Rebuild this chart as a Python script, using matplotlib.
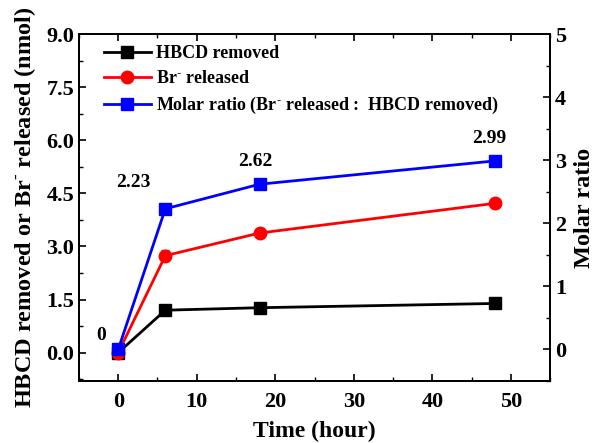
import numpy as np
import matplotlib
matplotlib.use('Agg')
import matplotlib.pyplot as plt
from matplotlib.ticker import MultipleLocator

plt.rcParams['font.family'] = 'Liberation Serif'
plt.rcParams['font.weight'] = 'bold'
plt.rcParams['mathtext.fontset'] = 'custom'
plt.rcParams['mathtext.rm'] = 'Liberation Serif:bold'
plt.rcParams['mathtext.bf'] = 'Liberation Serif:bold'

# datos
tiempo = [0, 6, 18, 48]
hbcd = [0.0, 1.20, 1.27, 1.39]
hbcd_err = [0.03, 0.06, 0.06, 0.06]
br = [0.0, 2.74, 3.38, 4.22]
br_err = [0.03, 0.16, 0.08, 0.12]
ratio = [0.0, 2.23, 2.62, 2.99]
ratio_txt = ['0', '2.23', '2.62', '2.99']

fig = plt.figure(figsize=(5.98, 4.43), dpi=100)
ax = fig.add_axes([0.132, 0.140, 0.788, 0.783])
ax2 = ax.twinx()

sup = r'$^{\text{-}}$'

l1, = ax.plot(tiempo, hbcd, '-s', color='black', lw=2, ms=8, label='HBCD removed')
ax.errorbar(tiempo, hbcd, yerr=hbcd_err, fmt='none', ecolor='black', capsize=3, elinewidth=1.5)
l2, = ax.plot(tiempo, br, '-o', color='red', lw=2, ms=9, label='Br' + sup + ' released')
ax.errorbar(tiempo, br, yerr=br_err, fmt='none', ecolor='red', capsize=3, elinewidth=1.5)
l3, = ax2.plot(tiempo, ratio, '-s', color='blue', lw=2, ms=8,
               label='Molar ratio (Br' + sup + ' released :  HBCD removed)')

# etiquetas de la razon molar
offsets = [(-12, 4), (-23, 13), (-3, 10), (-4, 10)]
for t, r, s, off in zip(tiempo, ratio, ratio_txt, offsets):
    ax2.annotate(s, (t, r), xytext=off, textcoords='offset points',
                 ha='center', va='bottom', fontsize=14, fontweight='bold')

ax.set_xlim(-5, 55)
ax.set_ylim(-0.8, 9.0)
ax2.set_ylim(-0.5, 5)

ax.xaxis.set_major_locator(MultipleLocator(10))
ax.xaxis.set_minor_locator(MultipleLocator(5))
ax.yaxis.set_minor_locator(MultipleLocator(0.75))
ax2.yaxis.set_major_locator(MultipleLocator(1))
ax2.yaxis.set_minor_locator(MultipleLocator(0.5))
ax.set_yticks([0, 1.5, 3.0, 4.5, 6.0, 7.5, 9.0])
ax.set_yticklabels(['0.0', '1.5', '3.0', '4.5', '6.0', '7.5', '9.0'])

ax.tick_params(axis='both', which='major', direction='in', length=5, width=1.2, labelsize=16)
ax.tick_params(axis='both', which='minor', direction='in', length=3, width=1)
ax.tick_params(axis='x', top=True, which='both', pad=8)
ax2.tick_params(axis='y', which='major', direction='in', length=5, width=1.2, labelsize=16)
ax2.tick_params(axis='y', which='minor', direction='in', length=3, width=1)

for a in (ax, ax2):
    for sp in a.spines.values():
        sp.set_linewidth(1.3)

ax.set_xlabel('Time (hour)', fontsize=17, fontweight='bold', labelpad=6)
ax.set_ylabel('HBCD removed or Br' + sup + ' released (nmol)', fontsize=17.5, fontweight='bold', labelpad=6)
ax2.set_ylabel('Molar ratio', fontsize=17.5, fontweight='bold', labelpad=6)

ax.legend(handles=[l1, l2, l3], loc='upper left', bbox_to_anchor=(0.03, 1.0),
          frameon=False, fontsize=13, handlelength=2.6, handletextpad=0.3,
          labelspacing=0.45, borderaxespad=0.2)

fig.savefig('out.png', dpi=100)
